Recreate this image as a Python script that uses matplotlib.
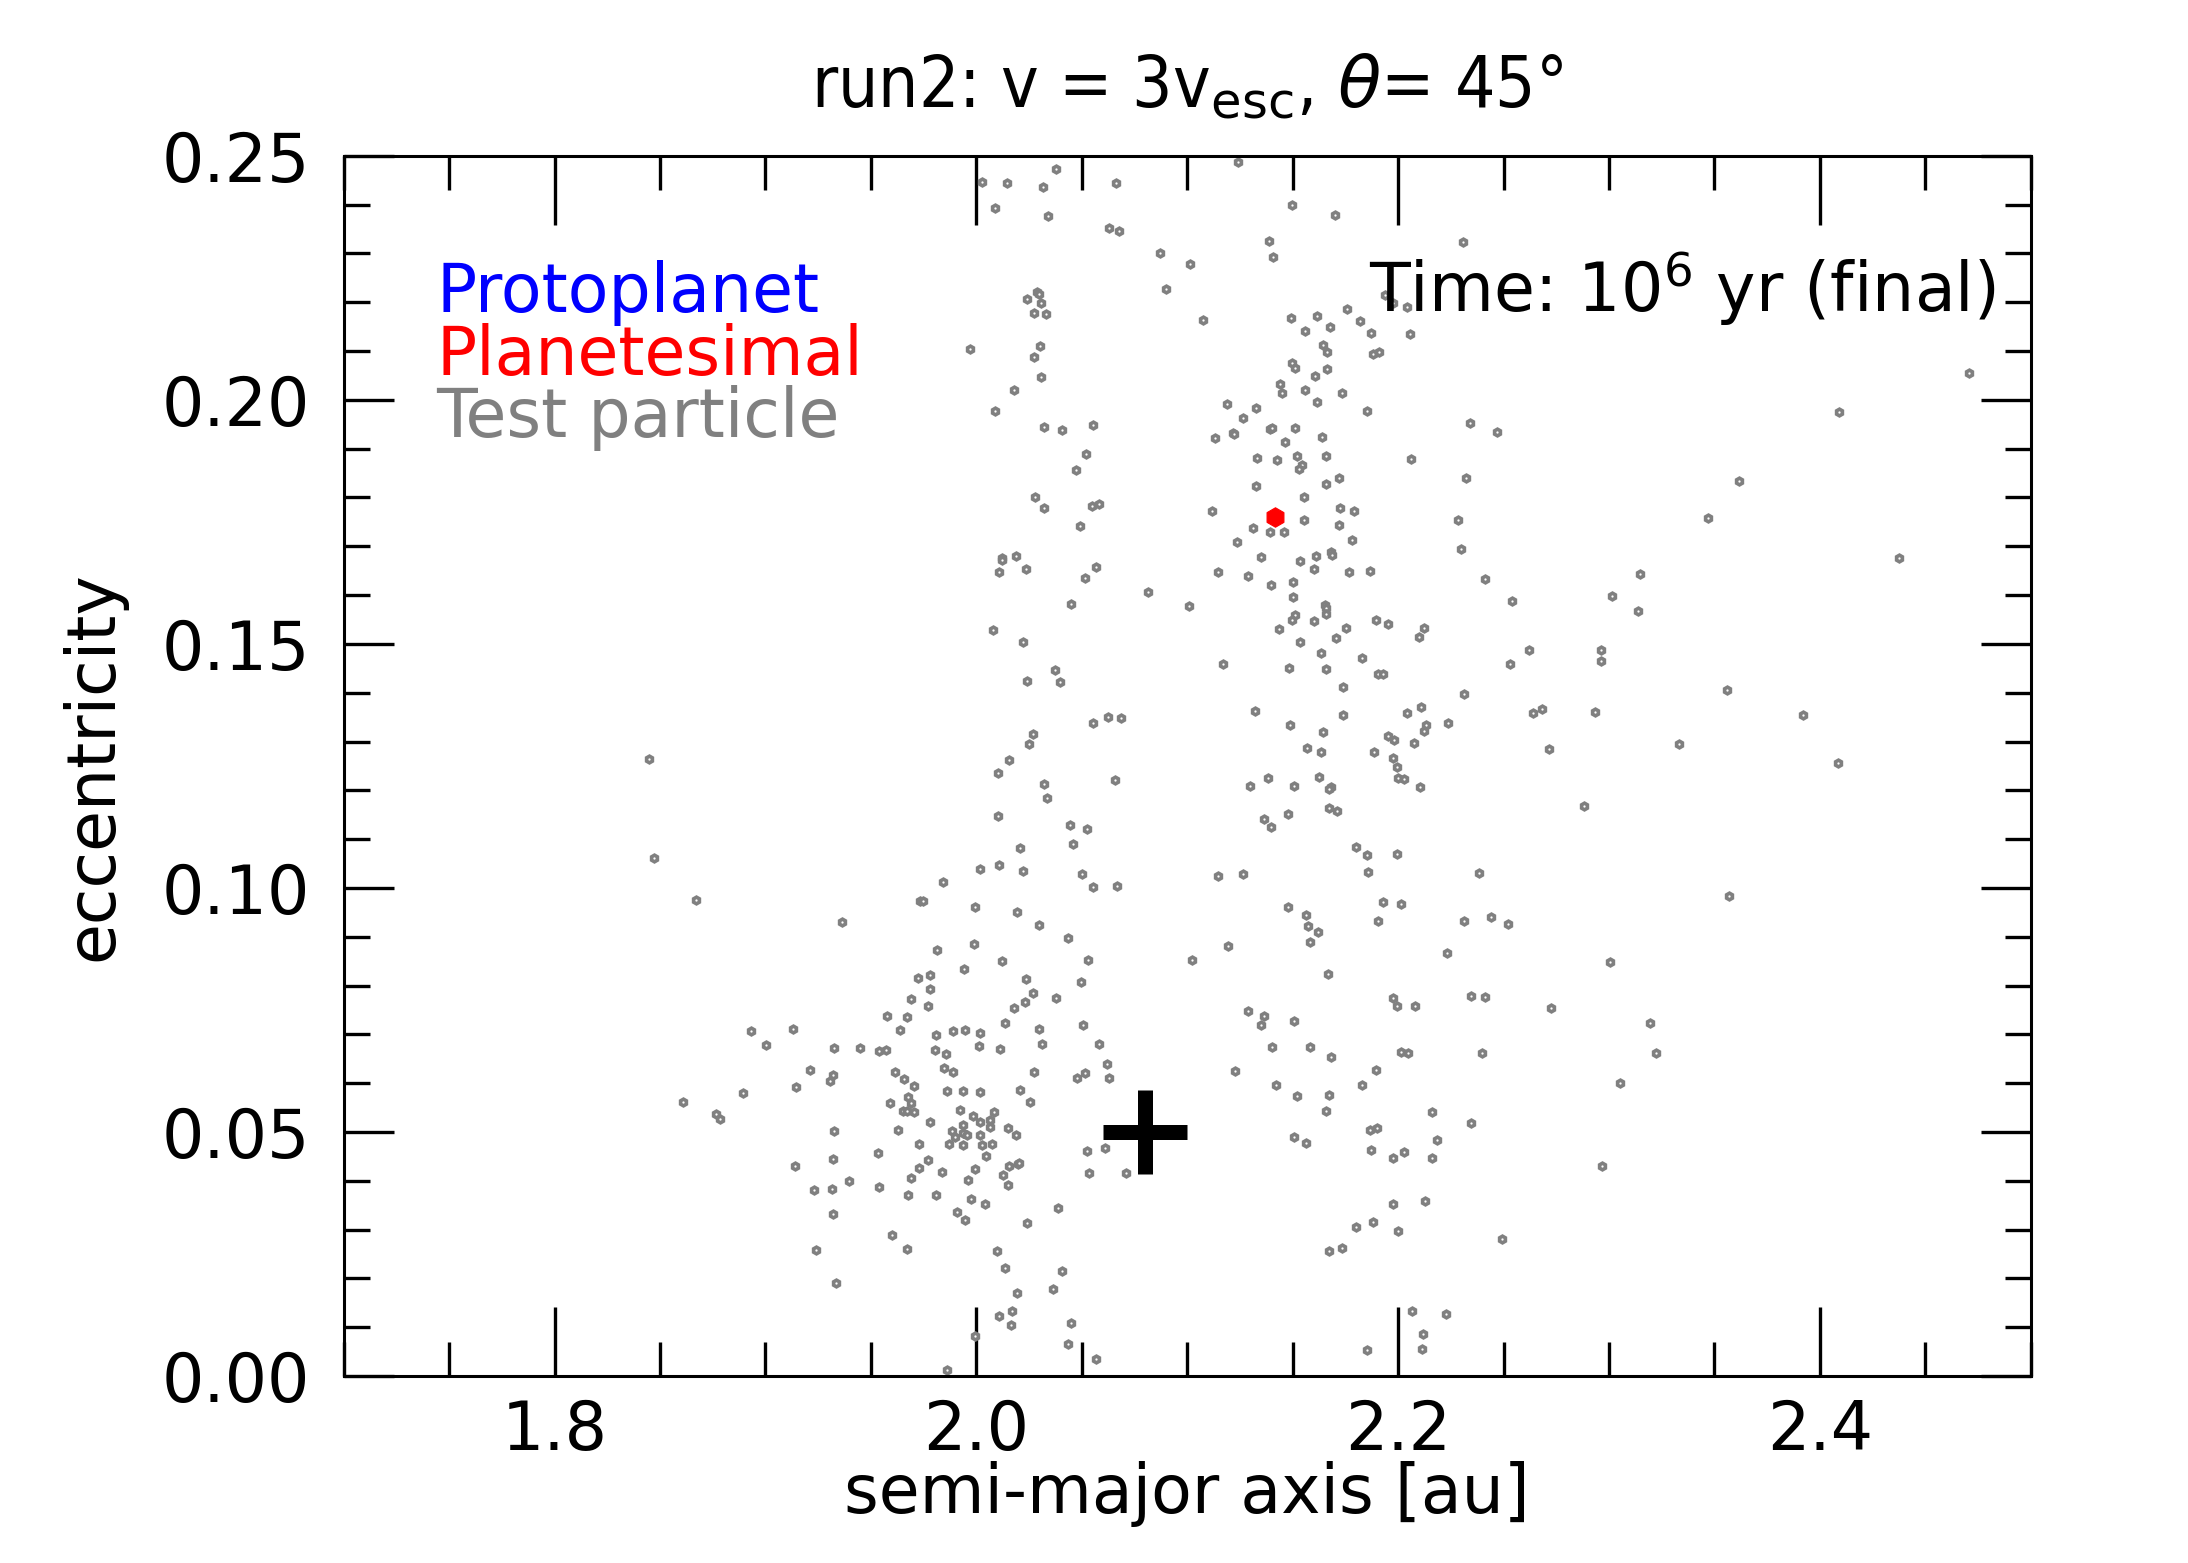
import numpy as np
import matplotlib
matplotlib.use("Agg")
import matplotlib.pyplot as plt
from matplotlib.ticker import MultipleLocator

# test particles (a [au], e), grouped by the region they were read from
test_top = [
    (2.0025, 0.2446), (2.0145, 0.2445), (2.038, 0.2473), (2.0318, 0.2436), (2.009, 0.2393),
    (2.034, 0.2377), (2.066, 0.2445), (2.063, 0.2352), (2.0678, 0.2345), (2.1242, 0.2487),
    (2.1495, 0.2400), (2.1702, 0.2378), (2.0871, 0.2300), (2.1011, 0.2278), (2.139, 0.2326),
    (2.1408, 0.2293), (2.0901, 0.2227), (2.0286, 0.2222), (2.0299, 0.2216), (2.0239, 0.2207),
    (2.0308, 0.2198), (2.0275, 0.2179), (2.0332, 0.2175), (2.1076, 0.2164), (2.1939, 0.2215),
    (2.1974, 0.2198), (2.176, 0.2187), (2.149, 0.2168), (2.1617, 0.2171), (2.1678, 0.2149),
    (2.1558, 0.2141), (2.182, 0.2162), (2.1873, 0.2138), (1.9971, 0.2105), (2.0303, 0.2111),
    (2.0275, 0.2087), (2.1645, 0.2113), (2.1664, 0.2099), (2.1881, 0.2095), (2.1911, 0.2098),
    (2.0308, 0.2047), (2.1495, 0.2075), (2.1509, 0.2065), (2.1606, 0.2048), (2.1664, 0.2063),
    (2.018, 0.2020), (2.0087, 0.1977), (2.1441, 0.2033), (2.1451, 0.2015), (2.156, 0.2021),
    (2.1735, 0.2014), (2.1617, 0.1996), (2.1854, 0.1977), (2.1187, 0.1992), (2.1328, 0.1984),
    (2.1266, 0.1962), (2.1215, 0.1933), (2.1222, 0.1930), (2.1133, 0.1921), (2.1392, 0.1940),
    (2.1403, 0.1943), (2.1512, 0.1942), (2.1465, 0.1914), (2.164, 0.1923), (2.0321, 0.1945),
    (2.0408, 0.1938), (2.0555, 0.1949), (2.0521, 0.1889), (2.0474, 0.1857), (2.1332, 0.1881),
    (2.1426, 0.1877), (2.1522, 0.1885), (2.1543, 0.1867), (2.1531, 0.1858), (2.166, 0.1886),
    (2.1328, 0.1824), (2.166, 0.1828), (2.1721, 0.1840), (2.028, 0.1802), (2.032, 0.1779),
    (2.0548, 0.1783), (2.0583, 0.1787), (2.0491, 0.1741), (2.1119, 0.1773), (2.1555, 0.1802),
    (2.1726, 0.1778), (2.1792, 0.1772), (2.1555, 0.1753), (2.1721, 0.1743), (2.1313, 0.1737),
    (2.1392, 0.1729), (2.146, 0.1730), (2.1237, 0.1708), (2.1783, 0.1712), (2.1348, 0.1678),
    (2.1683, 0.1688), (2.1688, 0.1682), (2.1612, 0.1681), (2.1536, 0.1669), (2.012, 0.1677),
    (2.0123, 0.1671), (2.019, 0.1680),
    (2.2043, 0.2190), (2.2056, 0.2134), (2.2342, 0.1953), (2.2470, 0.1935), (2.2062, 0.1878),
    (2.2323, 0.1840), (2.2285, 0.1754), (2.2299, 0.1695),
    (2.2309, 0.2324), (2.4092, 0.1976), (2.3618, 0.1834), (2.3472, 0.1757), (2.4708, 0.2056),
]

test_lower_left = [
    (1.845, 0.1264), (2.0077, 0.1529),
    (1.8473, 0.1061), (1.8672, 0.0976), (1.9361, 0.0931), (2.0015, 0.1039), (1.9843, 0.1012),
    (1.9735, 0.0973), (1.9745, 0.0973), (1.9995, 0.0960), (1.9991, 0.0885), (1.9815, 0.0873),
    (1.9942, 0.0834), (1.9725, 0.0815), (1.9782, 0.0822), (1.9778, 0.0793), (1.9691, 0.0773),
    (1.9772, 0.0758), (1.9577, 0.0737), (1.9669, 0.0736), (1.9640, 0.0710), (1.9132, 0.0712),
    (1.8933, 0.0706), (1.9004, 0.0678), (1.9326, 0.0672), (1.9450, 0.0672), (1.9537, 0.0665),
    (1.9571, 0.0669), (1.9810, 0.0698), (1.9887, 0.0707), (1.9948, 0.0710), (2.0019, 0.0702),
    (2.0013, 0.0677), (1.9806, 0.0668), (1.9857, 0.0659), (1.9849, 0.0631), (1.9891, 0.0622),
    (1.9209, 0.0628), (1.9322, 0.0617), (1.9308, 0.0604), (1.9146, 0.0592), (1.9612, 0.0622),
    (1.9658, 0.0609), (1.9703, 0.0595), (1.9863, 0.0584), (1.9938, 0.0585), (2.0019, 0.0582),
    (1.9675, 0.0572), (1.9592, 0.0559), (1.9691, 0.0559), (1.9650, 0.0543), (1.9672, 0.0543),
    (1.9703, 0.0541), (1.9924, 0.0546), (1.9985, 0.0532), (2.0082, 0.0541), (2.0019, 0.0520),
    (2.0066, 0.0524), (2.0066, 0.0510), (1.9936, 0.0514), (1.9883, 0.0502), (1.9938, 0.0497),
    (1.9954, 0.0494), (1.9900, 0.0490), (2.0019, 0.0494), (1.9778, 0.0521), (1.9628, 0.0504),
    (1.9326, 0.0503), (1.8607, 0.0562), (1.8765, 0.0536), (1.8785, 0.0526), (1.8894, 0.0579),
    (1.9729, 0.0475), (1.9869, 0.0475), (1.9938, 0.0473), (2.0029, 0.0473), (2.0076, 0.0475),
    (2.0047, 0.0451), (1.9535, 0.0458), (1.9322, 0.0444), (1.9138, 0.0430), (1.9772, 0.0443),
    (1.9729, 0.0426), (1.9691, 0.0406), (1.9839, 0.0418), (1.9995, 0.0425), (1.9962, 0.0402),
    (1.9397, 0.0400), (1.9229, 0.0381), (1.9316, 0.0383), (1.9537, 0.0388), (1.9677, 0.0371),
    (1.9811, 0.0370), (1.9975, 0.0363), (2.0043, 0.0353), (1.9906, 0.0336), (1.9948, 0.0319),
    (1.9322, 0.0332), (1.9598, 0.0289), (1.9669, 0.0260), (1.9241, 0.0258), (1.9336, 0.0191),
    (1.9995, 0.0083), (1.9861, 0.0013),
]

test_middle = [
    (2.0106, 0.1648), (2.0234, 0.1653), (2.0569, 0.1657), (2.0516, 0.1635), (2.0815, 0.1606),
    (2.045, 0.1581), (2.1010, 0.1578), (2.1146, 0.1647), (2.129, 0.1639), (2.1398, 0.1621),
    (2.15, 0.1627), (2.1601, 0.1653), (2.1767, 0.1648), (2.1866, 0.1650), (2.2412, 0.1634),
    (2.2538, 0.1587), (2.1503, 0.1597), (2.1654, 0.1580), (2.1658, 0.1573), (2.166, 0.1562),
    (2.1512, 0.1560), (2.1496, 0.1550), (2.1602, 0.1547), (2.1435, 0.1531), (2.1751, 0.1532),
    (2.1707, 0.1513), (2.1536, 0.1504), (2.1634, 0.1482), (2.1896, 0.1549), (2.1953, 0.1541),
    (2.2124, 0.1532), (2.2099, 0.1515), (2.183, 0.1471), (2.0223, 0.1504), (2.0374, 0.1446),
    (2.0241, 0.1425), (2.0398, 0.1422), (2.117, 0.1459), (2.1484, 0.1451), (2.166, 0.1449),
    (2.1904, 0.1438), (2.1928, 0.1438), (2.174, 0.1412), (2.253, 0.1459), (2.2313, 0.1397),
    (2.174, 0.1355), (2.1323, 0.1363), (2.1489, 0.1334), (2.1642, 0.1320), (2.2043, 0.1359),
    (2.2111, 0.1371), (2.2133, 0.1333), (2.2124, 0.1322), (2.2238, 0.1339), (2.195, 0.1311),
    (2.1982, 0.1303), (2.2076, 0.1296), (2.1887, 0.1278), (2.1569, 0.1286), (2.1636, 0.1278),
    (2.1977, 0.1266), (2.1996, 0.1247), (2.1999, 0.1226), (2.203, 0.1224), (2.2105, 0.1207),
    (2.1626, 0.1228), (2.1684, 0.1207), (2.1673, 0.1202), (2.1508, 0.1208), (2.1384, 0.1226),
    (2.1299, 0.1209), (2.0554, 0.1339), (2.0626, 0.1350), (2.0684, 0.1349), (2.0267, 0.1315),
    (2.0251, 0.1294), (2.0156, 0.1263), (2.0101, 0.1236), (2.0322, 0.1214), (2.0335, 0.1184),
    (2.0659, 0.1221), (2.0101, 0.1148), (2.0442, 0.1130), (2.0526, 0.1121), (2.0458, 0.1091),
    (2.0207, 0.1082), (2.0109, 0.1048), (2.0223, 0.1035), (2.0499, 0.1028), (2.0554, 0.1002),
    (2.0668, 0.1004), (2.1147, 0.1025), (2.1266, 0.1028), (2.1673, 0.1164), (2.1711, 0.1158),
    (2.1477, 0.1151), (2.1365, 0.1141), (2.1398, 0.1124), (2.1801, 0.1083), (2.1854, 0.1068),
    (2.1997, 0.1069), (2.1858, 0.1033), (2.2385, 0.1030), (2.1479, 0.0960), (2.1564, 0.0945),
    (2.1574, 0.0922), (2.162, 0.0910), (2.1583, 0.0890), (2.193, 0.0971), (2.2012, 0.0967),
    (2.1906, 0.0932), (2.2314, 0.0932), (2.2442, 0.0941), (2.2522, 0.0927), (2.2233, 0.0867),
    (2.1194, 0.0882), (2.1024, 0.0852), (2.0194, 0.0951), (2.0298, 0.0925), (2.0436, 0.0898),
    (2.0123, 0.0851), (2.0531, 0.0853),
    (2.4376, 0.1677), (2.3148, 0.1644), (2.3015, 0.1598), (2.3139, 0.1567), (2.2622, 0.1487),
    (2.2963, 0.1487), (2.2963, 0.1466), (2.3561, 0.1405), (2.2638, 0.1358), (2.2683, 0.1367),
    (2.2935, 0.1360), (2.3921, 0.1355), (2.2717, 0.1285), (2.3333, 0.1294), (2.4087, 0.1257),
    (2.2883, 0.1168), (2.357, 0.0983), (2.3006, 0.0848),
]

test_bottom = [
    (2.0237, 0.0814), (2.0498, 0.0807), (2.1669, 0.0824), (2.0267, 0.0785), (2.0232, 0.0766),
    (2.0379, 0.0775), (2.018, 0.0754), (2.0137, 0.0723), (2.0298, 0.0712), (2.0507, 0.0719),
    (2.0113, 0.0671), (2.0313, 0.0681), (2.0583, 0.0681), (2.0619, 0.0640), (2.0275, 0.0623),
    (2.0479, 0.0610), (2.0516, 0.0620), (2.0629, 0.0611), (2.0208, 0.0586), (2.0253, 0.0561),
    (2.0151, 0.0509), (2.0189, 0.0493), (2.0155, 0.0430), (2.0196, 0.0434), (2.0202, 0.0437),
    (2.0128, 0.0411), (2.0151, 0.0391), (2.0526, 0.0462), (2.0611, 0.0467), (2.0535, 0.0417),
    (2.0711, 0.0417), (2.0388, 0.0345), (2.0242, 0.0314), (2.0096, 0.0257), (2.0137, 0.0222),
    (2.0404, 0.0215), (2.0365, 0.0179), (2.0194, 0.0170), (2.0109, 0.0124), (2.017, 0.0133),
    (2.0166, 0.0105), (2.045, 0.0108), (2.0437, 0.0066), (2.0569, 0.0035), (2.1286, 0.0747),
    (2.1365, 0.0737), (2.1351, 0.0719), (2.1508, 0.0727), (2.1403, 0.0674), (2.1583, 0.0675),
    (2.1683, 0.0654), (2.1228, 0.0624), (2.1422, 0.0596), (2.1522, 0.0573), (2.1673, 0.0575),
    (2.1659, 0.0544), (2.1508, 0.0490), (2.1563, 0.0478), (2.1977, 0.0775), (2.1996, 0.0759),
    (2.2081, 0.0759), (2.2347, 0.0779), (2.2412, 0.0777), (2.2013, 0.0663), (2.2045, 0.0661),
    (2.24, 0.0662), (2.1896, 0.0627), (2.183, 0.0596), (2.2163, 0.0542), (2.2347, 0.0518),
    (2.1866, 0.0504), (2.1901, 0.0508), (2.2185, 0.0484), (2.1872, 0.0464), (2.2029, 0.0460),
    (2.1977, 0.0447), (2.2163, 0.0447), (2.1977, 0.0353), (2.2129, 0.0359), (2.1882, 0.0316),
    (2.1801, 0.0305), (2.1999, 0.0297), (2.1673, 0.0256), (2.1735, 0.0263), (2.2492, 0.0280),
    (2.2067, 0.0133), (2.2228, 0.0127), (2.2119, 0.0087), (2.2114, 0.0056), (2.1854, 0.0054),
    (2.2726, 0.0754), (2.3193, 0.0724), (2.3224, 0.0661), (2.3053, 0.0600), (2.2968, 0.0430),
]

planetesimal_a = [2.1418]
planetesimal_e = [0.1761]
protoplanet_a = [2.0801]
protoplanet_e = [0.0501]

title = r"run2: v = 3v$_{\rm esc}$, $\theta$= 45°"
time_label = r"Time: 10$^6$ yr (final)"

plt.rcParams["font.family"] = ["DejaVu Sans"]
plt.rcParams["font.size"] = 24

tp = np.array(test_top + test_lower_left + test_middle + test_bottom)

fig = plt.figure(figsize=(10.94, 7.815), dpi=200)
ax = fig.add_axes([0.1571, 0.1196, 0.7710, 0.7807])

ax.plot(tp[:, 0], tp[:, 1], ls="none", marker="h", ms=2.4, mew=1.3,
        mec="gray", mfc="white", zorder=2)
ax.plot(planetesimal_a, planetesimal_e, ls="none", marker="h", ms=7.0, mew=0.4,
        color="red", zorder=3)
ax.plot(protoplanet_a, protoplanet_e, ls="none", marker="+", ms=30.5, mew=5.4,
        color="black", zorder=4)

ax.set_xlim(1.7, 2.5)
ax.set_ylim(0.0, 0.25)
ax.xaxis.set_major_locator(MultipleLocator(0.2))
ax.xaxis.set_minor_locator(MultipleLocator(0.05))
ax.yaxis.set_major_locator(MultipleLocator(0.05))
ax.yaxis.set_minor_locator(MultipleLocator(0.01))

ax.tick_params(which="both", direction="in", top=True, right=True, width=1.2)
ax.tick_params(axis="x", which="major", length=25, pad=8)
ax.tick_params(axis="x", which="minor", length=12.4)
ax.tick_params(axis="y", which="major", length=18, pad=12)
ax.tick_params(axis="y", which="minor", length=9.3)
for sp in ax.spines.values():
    sp.set_linewidth(1.1)

ax.set_xlabel("semi-major axis [au]")
ax.set_ylabel("eccentricity")
ax.xaxis.set_label_coords(0.5, -0.070)
ax.yaxis.set_label_coords(-0.129, 0.5)
ax.set_title(title, y=1.0, pad=17.5, fontsize=25.5, fontstretch="condensed")

ax.text(0.0548, 0.8719, "Protoplanet", color="blue", transform=ax.transAxes,
        ha="left", va="baseline")
ax.text(0.0548, 0.8202, "Planetesimal", color="red", transform=ax.transAxes,
        ha="left", va="baseline")
ax.text(0.0548, 0.7698, "Test particle", color="gray", transform=ax.transAxes,
        ha="left", va="baseline")
ax.text(0.979, 0.8724, time_label, color="black", transform=ax.transAxes,
        ha="right", va="baseline")

fig.savefig("out.png", dpi=200)
